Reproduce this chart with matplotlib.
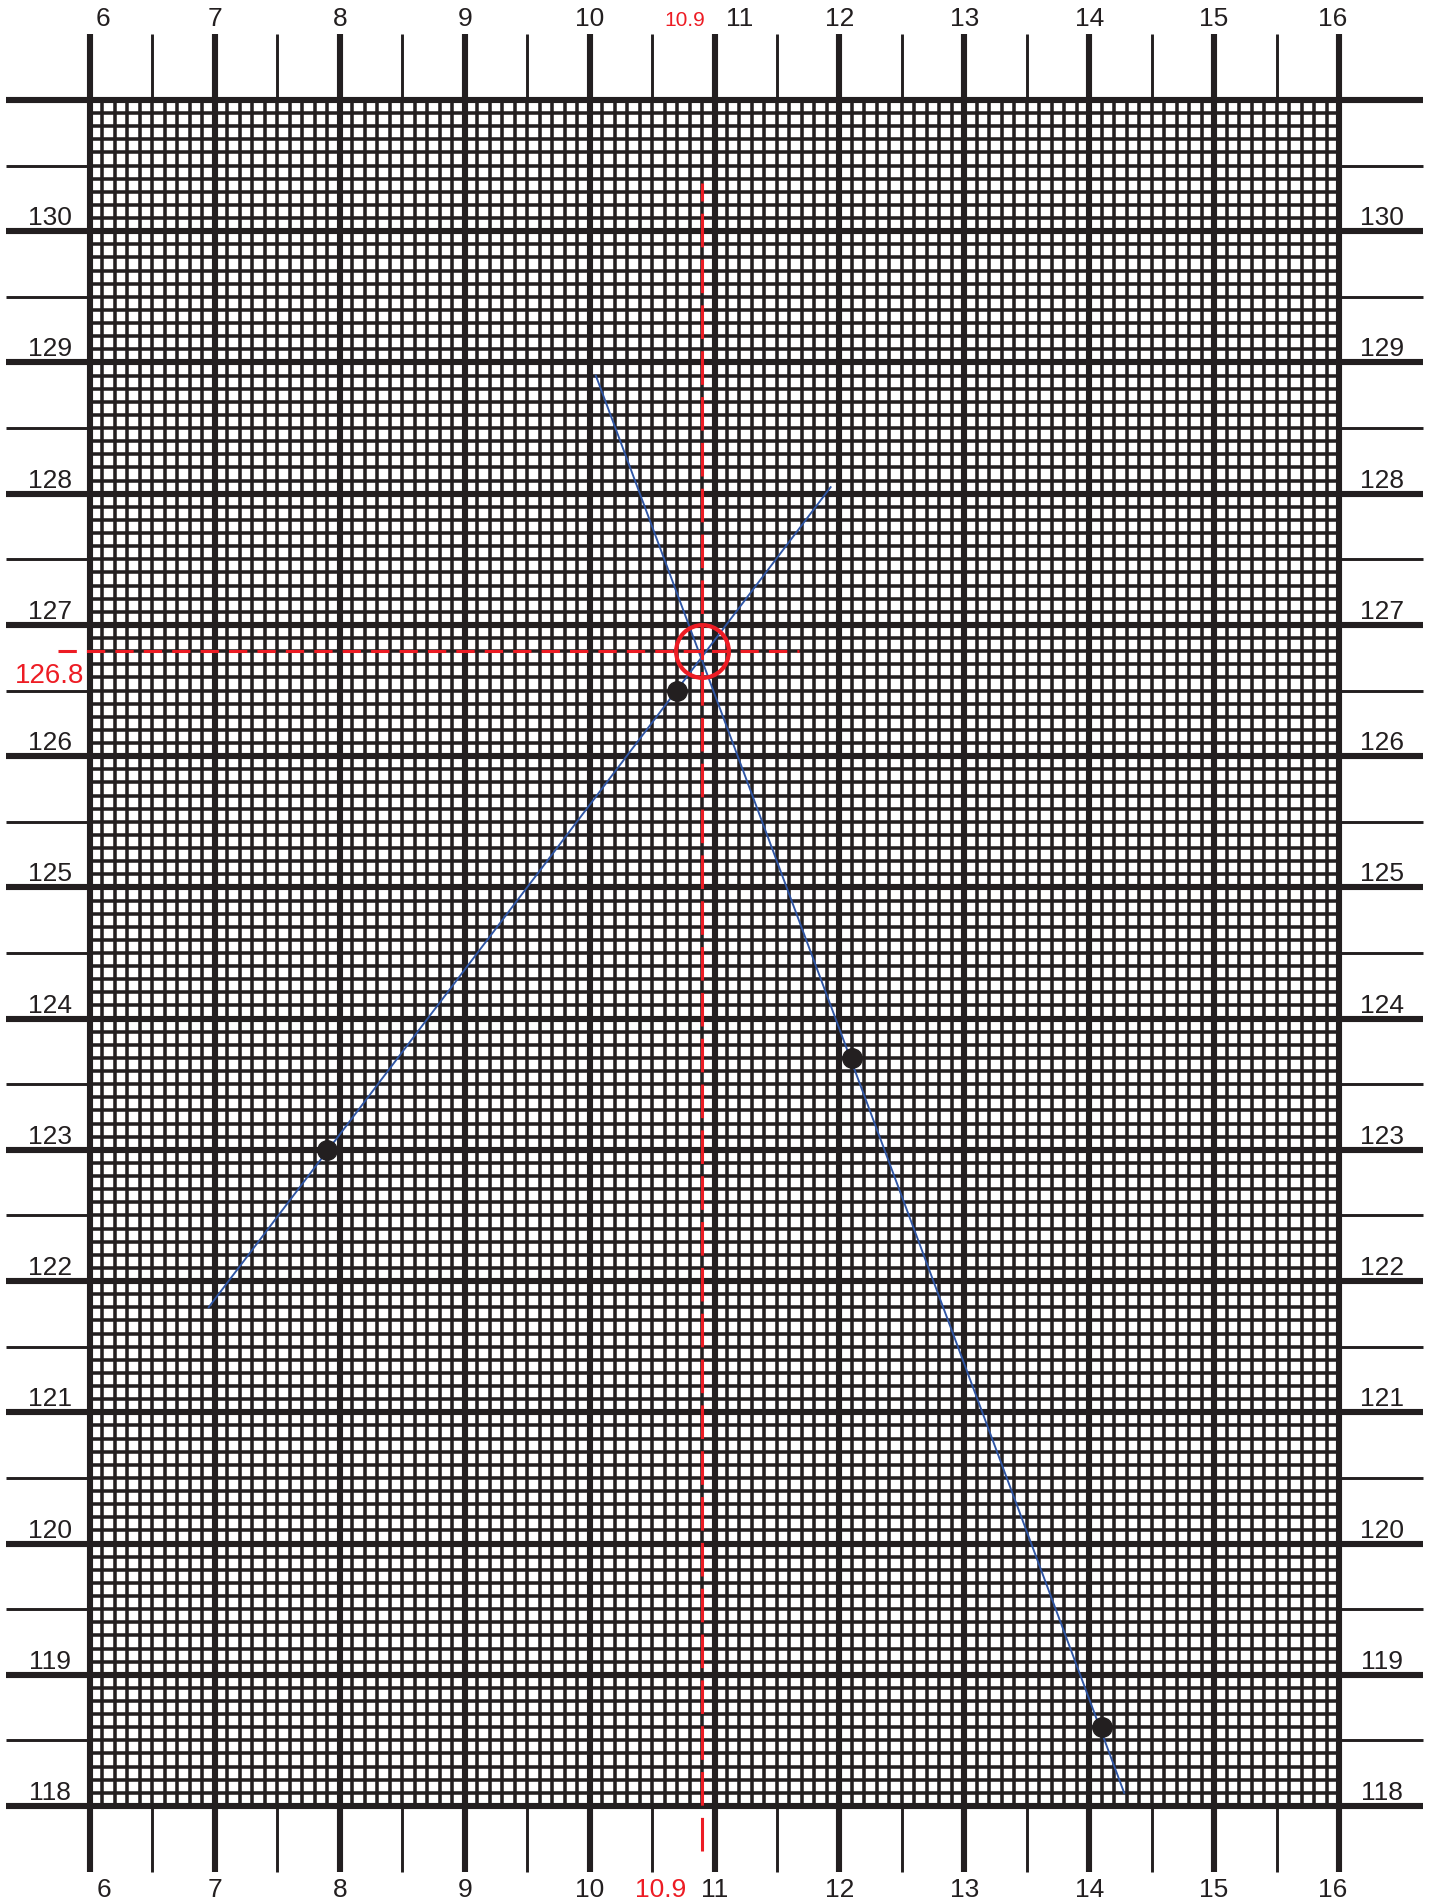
import matplotlib
matplotlib.use("Agg")
import matplotlib.pyplot as plt
import numpy as np

# ---------------- data ----------------
x_major = list(range(6, 17))          # 6 .. 16
y_major = list(range(118, 132))       # 118 .. 131
y_labeled = list(range(118, 131))     # 118 .. 130

pts_x = [7.9, 10.7, 12.1, 14.1]
pts_y = [123.0, 126.5, 123.7, 118.6]

line1_x = [6.95, 11.93]
line1_y = [121.8, 128.05]
line2_x = [10.05, 14.28]
line2_y = [128.9, 118.1]

cross_x = 10.9
cross_y = 126.8
hdash_x = [5.74, 11.68]
vdash_y = [117.66, 130.37]

# ---------------- styling ----------------
INK = "#231f20"
RED = "#ed1c24"
BLUE = "#2e55a5"
FONT = "Liberation Sans"

W, H = 1434, 1902
ux, uy = 124.9, 131.23          # pixels per data unit
x0 = 6 - 90 / ux
x1 = x0 + W / ux
y1 = 131 + 100 / uy
y0 = y1 - H / uy

fig = plt.figure(figsize=(W / 100, H / 100), dpi=100)
ax = fig.add_axes([0, 0, 1, 1])
ax.set_xlim(x0, x1)
ax.set_ylim(y0, y1)
ax.axis("off")

xmin, xmax = min(x_major), max(x_major)
ymin, ymax = min(y_major), max(y_major)

# minor grid (0.1 units)
xm = np.round(np.arange(xmin, xmax + 1e-6, 0.1), 2)
ym = np.round(np.arange(ymin, ymax + 1e-6, 0.1), 2)
ax.vlines(xm, ymin, ymax, colors=INK, lw=2.55, capstyle="butt", zorder=1)
ax.hlines(ym, xmin, xmax, colors=INK, lw=2.55, capstyle="butt", zorder=1)

# half ticks outside the grid
xh = np.arange(xmin + 0.5, xmax, 1.0)
yh = np.arange(ymin + 0.5, ymax, 1.0)
ext_x, ext_y = 0.67, 0.5
ax.vlines(xh, ymax, ymax + ext_y, colors=INK, lw=2.1, capstyle="butt", zorder=2)
ax.vlines(xh, ymin - ext_y, ymin, colors=INK, lw=2.1, capstyle="butt", zorder=2)
ax.hlines(yh, xmin - ext_x, xmin, colors=INK, lw=2.1, capstyle="butt", zorder=2)
ax.hlines(yh, xmax, xmax + ext_x, colors=INK, lw=2.1, capstyle="butt", zorder=2)

# heavy integer lines
ax.vlines(x_major, ymin - ext_y, ymax + ext_y, colors=INK, lw=4.4, capstyle="butt", zorder=3)
ax.hlines(y_major, xmin - ext_x, xmax + ext_x, colors=INK, lw=4.4, capstyle="butt", zorder=3)

# x labels top / bottom
top_dx = {6: 13, 11: 25, 16: -6}
bot_dx = {6: 14, 16: -6}
for v in x_major:
    ax.annotate(str(v), xy=(v, ymax + ext_y), xytext=(top_dx.get(v, 0), 8),
                textcoords="offset pixels", ha="center", va="baseline",
                fontsize=19, family=FONT, color=INK)
    ax.annotate(str(v), xy=(v, ymin - ext_y), xytext=(bot_dx.get(v, 0), -25),
                textcoords="offset pixels", ha="center", va="baseline",
                fontsize=19, family=FONT, color=INK)

# y labels left / right
for v in y_labeled:
    ax.annotate(str(v), xy=(50 / W, v), xycoords=("figure fraction", "data"),
                xytext=(0, 6), textcoords="offset pixels", ha="center", va="baseline",
                fontsize=19, family=FONT, color=INK)
    ax.annotate(str(v), xy=(1382 / W, v), xycoords=("figure fraction", "data"),
                xytext=(0, 6), textcoords="offset pixels", ha="center", va="baseline",
                fontsize=19, family=FONT, color=INK)

# fitted lines
ax.plot(line1_x, line1_y, color=BLUE, lw=1.35, zorder=5)
ax.plot(line2_x, line2_y, color=BLUE, lw=1.35, zorder=5)

# data points
ax.plot(pts_x, pts_y, "o", ms=14, color=INK, mec=INK, zorder=6)

# red construction
ax.plot(hdash_x, [cross_y, cross_y], color=RED, lw=2.2, dashes=(6, 3.3), zorder=7)
ax.plot([cross_x, cross_x], vdash_y, color=RED, lw=2.2, dashes=(11, 4), zorder=7)
ax.plot([cross_x], [cross_y], "o", ms=38, mfc="none", mec=RED, mew=3.0, zorder=8)

ax.annotate(f"{cross_x}", xy=(cross_x, ymax + ext_y), xytext=(-17, 8),
            textcoords="offset pixels", ha="center", va="baseline",
            fontsize=15, family=FONT, color=RED)
ax.annotate(f"{cross_x}", xy=(cross_x, ymin - ext_y), xytext=(-41, -25),
            textcoords="offset pixels", ha="center", va="baseline",
            fontsize=19, family=FONT, color=RED)
ax.annotate(f"{cross_y}", xy=(84 / W, cross_y), xycoords=("figure fraction", "data"),
            xytext=(0, -32), textcoords="offset pixels", ha="right", va="baseline",
            fontsize=20, family=FONT, color=RED)

fig.savefig("out.png", dpi=100)
